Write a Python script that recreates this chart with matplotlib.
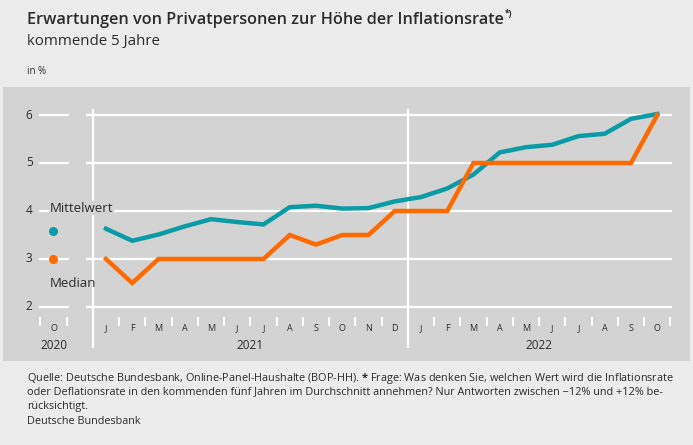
import numpy as np
import matplotlib
matplotlib.use("Agg")
import matplotlib.pyplot as plt

plt.rcParams["font.family"] = ["Open Sans", "DejaVu Sans"]
plt.rcParams["mathtext.fontset"] = "custom"
plt.rcParams["mathtext.rm"] = "Open Sans"
plt.rcParams["mathtext.bf"] = "Open Sans:bold"

# ── data: Jan 2021 .. Oct 2022 ─────────────────────────────────────────
months_2021 = ["J", "F", "M", "A", "M", "J", "J", "A", "S", "O", "N", "D"]
months_2022 = ["J", "F", "M", "A", "M", "J", "J", "A", "S", "O"]
mittelwert = [3.63, 3.38, 3.51, 3.68, 3.83, 3.77, 3.72, 4.08, 4.11, 4.05, 4.06, 4.20,
              4.29, 4.47, 4.76, 5.22, 5.33, 5.38, 5.56, 5.61, 5.92, 6.02]
median = [3.0, 2.5, 3.0, 3.0, 3.0, 3.0, 3.0, 3.5, 3.3, 3.5, 3.5, 4.0,
          4.0, 4.0, 5.0, 5.0, 5.0, 5.0, 5.0, 5.0, 5.0, 6.0]
legend_vals = {"Mittelwert": 3.58, "Median": 3.0}
yticks = [2, 3, 4, 5, 6]

TEAL = "#0a9ba6"
ORANGE = "#ff6a00"
PANEL = "#d3d3d3"
OUTER = "#ececec"
TXT = "#2b2b2b"

W, H = 693, 445
fig = plt.figure(figsize=(W / 100, H / 100), dpi=100, facecolor=OUTER)


def fx(px):
    return px / W


def fy(py):
    return 1 - py / H


# panel axes: pixel box x 3..690, y 87..361
ax = fig.add_axes([fx(3), fy(361), fx(690) - fx(3), fy(87) - fy(361)])
ax.set_facecolor(PANEL)
for s in ax.spines.values():
    s.set_visible(False)
ax.set_xticks([]); ax.set_yticks([])
# x: px = 106 + 26.25*i ; y: py = 259 - 48*(v-3)
ax.set_xlim((3 - 106) / 26.25, (690 - 106) / 26.25)
ax.set_ylim(3 - (361 - 259) / 48, 3 + (259 - 87) / 48)

x = np.arange(len(mittelwert))
n21 = len(months_2021)

# gridlines (broken between the 2020 stub and 2021)
for v in yticks:
    ax.hlines(v, -2.55, -1.41, color="white", lw=1.6, zorder=1)
    ax.hlines(v, -0.76, len(x) - 0.44, color="white", lw=1.6, zorder=1)
    ax.text(-2.8, v, str(v), ha="right", va="center", fontsize=8.5, color=TXT)

# year dividers
for xd in [-0.5, n21 - 0.5]:
    ax.vlines(xd, 1.15, 6.12, color="white", lw=1.6, zorder=1)

# month tick marks at month boundaries
bounds = [-2.5, -1.5] + [b + 0.5 for b in range(len(x))]
bounds = [b for b in bounds if b not in (n21 - 0.5,)]
ax.vlines(bounds, 1.60, 1.79, color="white", lw=1.4, zorder=1)

# month labels
ax.text(-2, 1.55, "O", ha="center", va="center", fontsize=6.5, color=TXT)
for i, m in enumerate(months_2021 + months_2022):
    ax.text(i, 1.55, m, ha="center", va="center", fontsize=6.5, color=TXT)
ax.text(-2, 1.20, "2020", ha="center", va="center", fontsize=8.5, color=TXT)
ax.text((n21 - 1) / 2, 1.20, "2021", ha="center", va="center", fontsize=8.5, color=TXT)
ax.text(n21 + (len(months_2022) - 1) / 2, 1.20, "2022", ha="center", va="center",
        fontsize=8.5, color=TXT)

# series
ax.plot(x, mittelwert, color=TEAL, lw=3.2, solid_joinstyle="miter", zorder=3)
ax.plot(x, median, color=ORANGE, lw=3.2, solid_joinstyle="miter", zorder=4)

# inline legend in the 2020 column
ax.plot([-2.02], [legend_vals["Mittelwert"]], "o", color=TEAL, ms=5.5, zorder=5)
ax.plot([-2.02], [legend_vals["Median"]], "o", color=ORANGE, ms=5.5, zorder=5)
ax.text(-2.15, 4.06, "Mittelwert", ha="left", va="center", fontsize=9.5, color=TXT,
        zorder=5, bbox=dict(fc=PANEL, ec="none", pad=0.5))
ax.text(-2.15, 2.49, "Median", ha="left", va="center", fontsize=9.5, color=TXT, zorder=5)

# titles
t = fig.text(fx(27), fy(20), "Erwartungen von Privatpersonen zur Höhe der Inflationsrate",
             ha="left", va="center", fontsize=11.7, color=TXT, fontweight="semibold")
fig.text(fx(27), fy(41), "kommende 5 Jahre", ha="left", va="center", fontsize=10.8,
         color=TXT)
fig.text(fx(27), fy(72), "in %", ha="left", va="center", fontsize=7, color=TXT)

# footnote
foot = [
    r"Quelle: Deutsche Bundesbank, Online-Panel-Haushalte (BOP-HH). $\mathbf{*}$ Frage: Was denken Sie, welchen Wert wird die Inflationsrate",
    "oder Deflationsrate in den kommenden fünf Jahren im Durchschnitt annehmen? Nur Antworten zwischen \u221212% und +12% be-",
    "rücksichtigt.",
]
for k, line in enumerate(foot):
    fig.text(fx(27), fy(378 + 14 * k), line, ha="left", va="center", fontsize=7.8,
             color=TXT)
fig.text(fx(27), fy(422), "Deutsche Bundesbank", ha="left", va="center", fontsize=7.8,
         color=TXT)

# superscript after the title, placed from the title's rendered extent
fig.canvas.draw()
bb = t.get_window_extent().transformed(fig.transFigure.inverted())
fig.text(bb.x1 + fx(1), fy(13), "*)", ha="left", va="center", fontsize=6,
         color=TXT, fontweight="bold")

fig.savefig("out.png", dpi=100, facecolor=OUTER)
